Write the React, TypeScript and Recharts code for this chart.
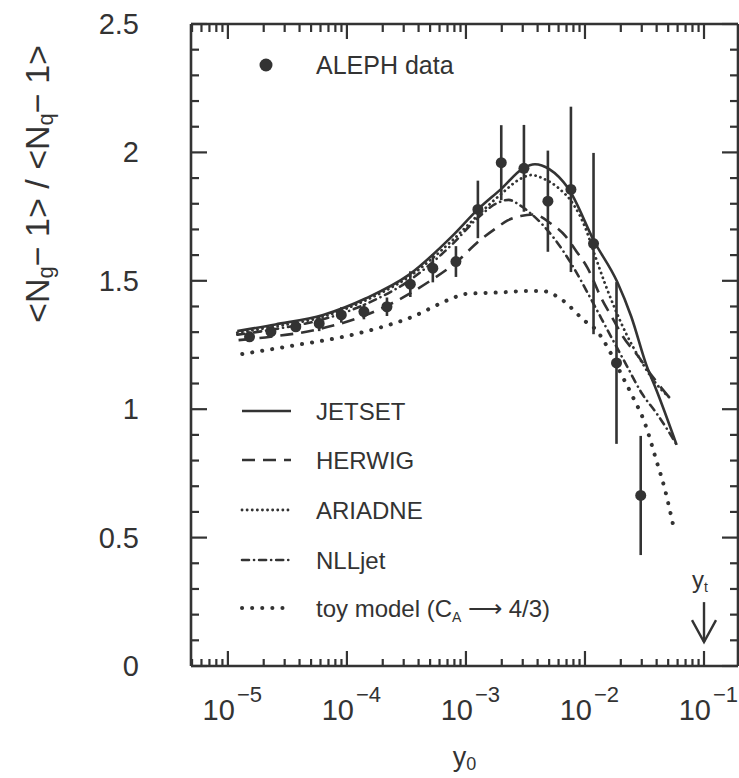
import React from 'react';
import {
  ComposedChart,
  Line,
  Scatter,
  ErrorBar,
  XAxis,
  YAxis,
  Legend,
  ReferenceDot
} from 'recharts';

// Ratio of gluon to quark subjet multiplicity vs. resolution y0

const INK = '#333333';
const FONT = '"Liberation Sans", Arial, Helvetica, sans-serif';

const WIDTH = 739;
const HEIGHT = 778;

// x range of the frame (log scale)
const X_MIN = 4.9e-6;
const X_MAX = 0.193;

// ALEPH measurement
const alephY0 = [
  1.52e-5, 2.3e-5, 3.72e-5, 5.85e-5, 8.97e-5, 1.39e-4, 2.17e-4, 3.41e-4, 5.27e-4,
  8.24e-4, 1.26e-3, 1.98e-3, 3.07e-3, 4.88e-3, 7.62e-3, 1.18e-2, 1.84e-2, 2.94e-2
];
const alephRatio = [
  1.282, 1.302, 1.321, 1.334, 1.367, 1.38, 1.399, 1.487, 1.549,
  1.575, 1.778, 1.96, 1.938, 1.81, 1.856, 1.645, 1.18, 0.664
];
const alephErr = [
  0.02, 0.02, 0.02, 0.03, 0.03, 0.03, 0.036, 0.05, 0.055,
  0.06, 0.112, 0.146, 0.169, 0.197, 0.322, 0.353, 0.315, 0.232
];

// JETSET
const jetsetY0 = [
  1.2e-5, 2.51e-5, 6.31e-5, 1.45e-4, 3.31e-4, 7.59e-4, 1.26e-3, 2.0e-3, 3.02e-3,
  3.8e-3, 5.01e-3, 7.24e-3, 1.2e-2, 1.86e-2, 2.45e-2, 3.31e-2, 3.98e-2, 5.89e-2
];
const jetsetRatio = [
  1.304, 1.33, 1.367, 1.432, 1.523, 1.672, 1.778, 1.86, 1.938,
  1.954, 1.935, 1.86, 1.652, 1.497, 1.36, 1.166, 1.075, 0.861
];

// HERWIG
const herwigY0 = [
  1.23e-5, 2.29e-5, 5.75e-5, 1.82e-4, 5.01e-4, 8.13e-4, 1.32e-3, 1.78e-3, 2.24e-3,
  2.88e-3, 3.72e-3, 5.13e-3, 6.92e-3, 8.32e-3, 1.05e-2, 1.38e-2, 1.74e-2, 2.09e-2,
  2.82e-2, 3.72e-2, 5.13e-2
];
const herwigRatio = [
  1.269, 1.282, 1.311, 1.386, 1.5, 1.569, 1.659, 1.704, 1.735,
  1.752, 1.758, 1.724, 1.672, 1.62, 1.55, 1.43, 1.347, 1.282,
  1.204, 1.125, 1.045
];

// ARIADNE
const ariadneY0 = [
  1.2e-5, 2.51e-5, 6.31e-5, 1.45e-4, 3.31e-4, 7.59e-4, 1.26e-3, 2.0e-3, 2.82e-3,
  3.55e-3, 4.47e-3, 6.03e-3, 7.94e-3, 1.0e-2, 1.21e-2, 1.47e-2, 1.79e-2, 2.24e-2,
  2.9e-2, 3.73e-2, 5.13e-2
];
const ariadneRatio = [
  1.298, 1.322, 1.36, 1.425, 1.515, 1.655, 1.755, 1.84, 1.895,
  1.912, 1.898, 1.86, 1.8, 1.71, 1.6, 1.49, 1.39, 1.29,
  1.195, 1.115, 1.045
];

// NLLjet
const nlljetY0 = [
  1.2e-5, 2.51e-5, 6.31e-5, 1.45e-4, 3.31e-4, 7.59e-4, 1.26e-3, 1.78e-3, 2.29e-3,
  2.82e-3, 3.55e-3, 4.47e-3, 5.62e-3, 7.94e-3, 1.12e-2, 1.58e-2, 2.24e-2, 3.02e-2,
  3.98e-2, 5.01e-2, 5.89e-2
];
const nlljetRatio = [
  1.29, 1.312, 1.35, 1.41, 1.5, 1.64, 1.745, 1.8, 1.815,
  1.795, 1.76, 1.715, 1.66, 1.555, 1.43, 1.3, 1.17, 1.06,
  0.985, 0.915, 0.861
];

// toy model (C_A -> 4/3)
const toyY0 = [
  1.32e-5, 3.16e-5, 1.26e-4, 3.55e-4, 7.08e-4, 1.0e-3, 2.0e-3, 3.16e-3, 4.37e-3,
  6.46e-3, 9.77e-3, 1.26e-2, 1.66e-2, 2.0e-2, 2.51e-2, 3.16e-2, 3.98e-2, 4.68e-2,
  5.46e-2
];
const toyRatio = [
  1.215, 1.244, 1.296, 1.36, 1.425, 1.449, 1.455, 1.46, 1.46,
  1.425, 1.347, 1.305, 1.215, 1.14, 1.05, 0.95, 0.8, 0.69,
  0.556
];

// axis ticks
const X_MAJOR = [1e-5, 1e-4, 1e-3, 1e-2, 1e-1];
const X_DECADES = [1e-6, 1e-5, 1e-4, 1e-3, 1e-2];
const X_STEPS = [2, 3, 4, 5, 6, 7, 8, 9];
const X_TICKS = [
  ...X_MAJOR,
  ...X_DECADES.flatMap(d => X_STEPS.map(m => m * d)).filter(v => v >= X_MIN && v <= X_MAX)
];
const Y_TICKS = [
  0, 0.1, 0.2, 0.3, 0.4, 0.5, 0.6, 0.7, 0.8, 0.9, 1, 1.1, 1.2,
  1.3, 1.4, 1.5, 1.6, 1.7, 1.8, 1.9, 2, 2.1, 2.2, 2.3, 2.4, 2.5
];
const Y_LABELS = ['0', '0.5', '1', '1.5', '2', '2.5'];

const toPoints = (xs: number[], ys: number[]) => xs.map((x, i) => ({ y0: x, r: ys[i] }));

const alephPoints = alephY0.map((x, i) => ({ y0: x, r: alephRatio[i], err: alephErr[i] }));

const isMajorX = (v: number) => {
  const l = Math.log10(v);
  return Math.abs(l - Math.round(l)) < 1e-6;
};
const isMajorY = (v: number) => Math.round(v * 10) % 5 === 0;

const models = [
  { name: 'JETSET', data: toPoints(jetsetY0, jetsetRatio), dash: undefined, width: 2.6, cap: 'butt' },
  { name: 'HERWIG', data: toPoints(herwigY0, herwigRatio), dash: '13 8', width: 2.6, cap: 'butt' },
  { name: 'ARIADNE', data: toPoints(ariadneY0, ariadneRatio), dash: '0.1 5', width: 2.8, cap: 'round' },
  { name: 'NLLjet', data: toPoints(nlljetY0, nlljetRatio), dash: '7 5 0.1 5', width: 2.6, cap: 'round' },
  { name: 'toy model', data: toPoints(toyY0, toyRatio), dash: '0.1 10', width: 4, cap: 'round' }
];

const textStyle = { fontFamily: FONT, fill: INK };

const BottomTick = (props: any) => {
  const { x, y, payload } = props;
  const v = payload.value;
  const major = isMajorX(v);
  const exp = Math.round(Math.log10(v));
  return (
    <g>
      <line x1={x} x2={x} y1={y} y2={y - (major ? 15 : 7)} stroke={INK} strokeWidth={2.2} />
      {major && (
        <text x={x + 7} y={y + 54} textAnchor="end" fontSize={29} style={textStyle}>10</text>
      )}
      {major && (
        <text x={x + 9} y={y + 36} fontSize={22} style={textStyle}>{`\u2212${Math.abs(exp)}`}</text>
      )}
    </g>
  );
};

const TopTick = (props: any) => {
  const { x, y, payload } = props;
  const major = isMajorX(payload.value);
  return <line x1={x} x2={x} y1={y} y2={y + (major ? 15 : 8)} stroke={INK} strokeWidth={2.2} />;
};

const LeftTick = (props: any) => {
  const { x, y, payload } = props;
  const major = isMajorY(payload.value);
  const label = Y_LABELS[Math.round(payload.value * 2)];
  return (
    <g>
      <line x1={x} x2={x + (major ? 16 : 8)} y1={y} y2={y} stroke={INK} strokeWidth={2.2} />
      {major && (
        <text x={x - 52} y={y + 10} textAnchor="end" fontSize={29} style={textStyle}>{label}</text>
      )}
    </g>
  );
};

const RightTick = (props: any) => {
  const { x, y, payload } = props;
  const major = isMajorY(payload.value);
  return <line x1={x} x2={x - (major ? 16 : 8)} y1={y} y2={y} stroke={INK} strokeWidth={2.2} />;
};

const YTitle = (props: any) => {
  const vb = props.viewBox || { x: 131, y: 24 };
  const cx = vb.x - 94;
  const cy = vb.y + 160;
  return (
    <text
      x={cx}
      y={cy}
      transform={`rotate(-90 ${cx} ${cy})`}
      textAnchor="middle"
      dominantBaseline="central"
      fontSize={34}
      style={textStyle}
    >
      {'<N'}
      <tspan dy={8} fontSize={22}>g</tspan>
      <tspan dy={-8}>{'\u2212 1> / <N'}</tspan>
      <tspan dy={8} fontSize={22}>q</tspan>
      <tspan dy={-8}>{'\u2212 1>'}</tspan>
    </text>
  );
};

const XTitle = (props: any) => {
  const vb = props.viewBox || { x: 191, y: 666, width: 547 };
  const cx = vb.x + vb.width / 2;
  return (
    <text x={cx} y={vb.y + 100} textAnchor="middle" fontSize={27} style={textStyle}>
      y<tspan dy={4} fontSize={18}>0</tspan>
    </text>
  );
};

// arrow marking y_t on the x axis
const TransitionMark = (props: any) => {
  const { cx, cy } = props;
  return (
    <g>
      <line x1={cx} x2={cx} y1={cy - 40} y2={cy} stroke={INK} strokeWidth={2.4} />
      <polyline
        points={`${cx - 12},${cy - 22} ${cx},${cy} ${cx + 12},${cy - 22}`}
        fill="none"
        stroke={INK}
        strokeWidth={2.4}
      />
      <text x={cx - 4} y={cy - 54} textAnchor="middle" fontSize={24} style={textStyle}>
        y<tspan dy={4} fontSize={14}>t</tspan>
      </text>
    </g>
  );
};

const KEY_ROWS = [411, 460, 510, 560, 608];

const KeyPanel = () => (
  <svg width={WIDTH} height={HEIGHT} style={{ position: 'absolute', left: 0, top: 0 }}>
    <circle cx={266} cy={65} r={6.5} fill={INK} />
    <text x={316} y={74} fontSize={25} style={textStyle}>ALEPH data</text>
    {models.map((m, i) => (
      <g key={m.name}>
        <line
          x1={242}
          x2={291}
          y1={KEY_ROWS[i]}
          y2={KEY_ROWS[i]}
          stroke={INK}
          strokeWidth={m.width}
          strokeDasharray={m.dash}
          strokeLinecap={m.cap as any}
        />
        <text x={316} y={KEY_ROWS[i] + 9} fontSize={24} style={textStyle}>
          {m.name === 'toy model' ? (
            <>
              toy model (C<tspan dy={5} fontSize={14}>A</tspan>
              <tspan dy={-5}>{' \u27F6 4/3)'}</tspan>
            </>
          ) : (
            m.name
          )}
        </text>
      </g>
    ))}
  </svg>
);

const Dot = (props: any) => <circle cx={props.cx} cy={props.cy} r={5.5} fill={INK} />;

const axisLine = { stroke: INK, strokeWidth: 2.6 };

export default function App() {
  return (
    <div style={{ position: 'absolute', left: 0, top: 0, width: WIDTH, height: HEIGHT, background: '#fff' }}>
      <ComposedChart width={WIDTH} height={HEIGHT} margin={{ top: 23, right: 0, bottom: 0, left: 131 }}>
        <XAxis
          dataKey="y0"
          type="number"
          scale="log"
          domain={[X_MIN, X_MAX]}
          allowDataOverflow
          ticks={X_TICKS}
          interval={0}
          tick={BottomTick}
          tickLine={false}
          tickSize={0}
          tickMargin={0}
          height={112}
          axisLine={axisLine}
          label={{ content: XTitle }}
        />
        <XAxis
          xAxisId="top"
          orientation="top"
          dataKey="y0"
          type="number"
          scale="log"
          domain={[X_MIN, X_MAX]}
          allowDataOverflow
          ticks={X_TICKS}
          interval={0}
          tick={TopTick}
          tickLine={false}
          tickSize={0}
          tickMargin={0}
          height={1}
          axisLine={axisLine}
        />
        <YAxis
          dataKey="r"
          type="number"
          domain={[0, 2.5]}
          allowDataOverflow
          ticks={Y_TICKS}
          interval={0}
          tick={LeftTick}
          tickLine={false}
          tickSize={0}
          tickMargin={0}
          width={60}
          axisLine={axisLine}
          label={{ content: YTitle }}
        />
        <YAxis
          yAxisId="right"
          orientation="right"
          dataKey="r"
          type="number"
          domain={[0, 2.5]}
          allowDataOverflow
          ticks={Y_TICKS}
          interval={0}
          tick={RightTick}
          tickLine={false}
          tickSize={0}
          tickMargin={0}
          width={1}
          axisLine={axisLine}
        />

        {models.map(m => (
          <Line
            key={m.name}
            data={m.data}
            dataKey="r"
            type="monotone"
            stroke={INK}
            strokeWidth={m.width}
            strokeDasharray={m.dash}
            strokeLinecap={m.cap as any}
            dot={false}
            activeDot={false}
            isAnimationActive={false}
          />
        ))}

        {/* the frame's top and right edges share the JETSET curve's scales */}
        <Line
          xAxisId="top"
          yAxisId="right"
          data={models[0].data}
          dataKey="r"
          stroke="none"
          dot={false}
          activeDot={false}
          legendType="none"
          isAnimationActive={false}
        />

        <Scatter data={alephPoints} dataKey="r" shape={Dot} isAnimationActive={false}>
          <ErrorBar dataKey="err" direction="y" width={0} stroke={INK} strokeWidth={2.6} isAnimationActive={false} />
        </Scatter>

        <ReferenceDot x={0.1} y={0.093} r={0} ifOverflow="visible" shape={TransitionMark} />

        <Legend
          layout="horizontal"
          verticalAlign="middle"
          align="center"
          wrapperStyle={{ position: 'absolute', left: 0, top: 0, width: WIDTH, height: HEIGHT, pointerEvents: 'none' }}
          content={() => <KeyPanel />}
        />
      </ComposedChart>
    </div>
  );
}
